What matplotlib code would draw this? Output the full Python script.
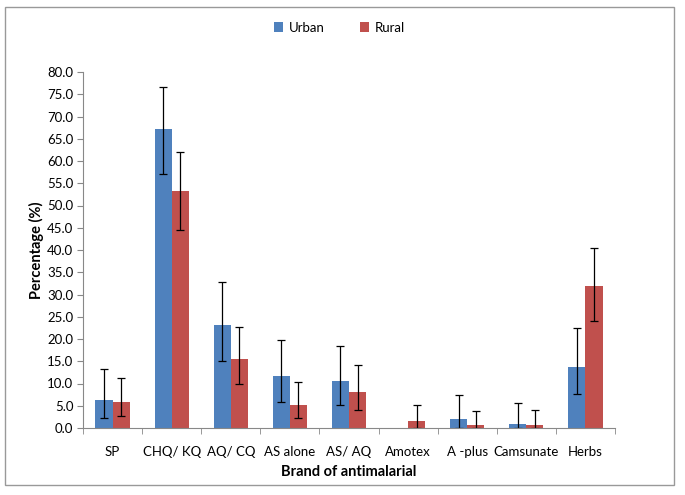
import numpy as np
import matplotlib.pyplot as plt
from matplotlib.patches import Rectangle

plt.rcParams['font.family'] = ['Lato', 'DejaVu Sans']

brands = ['SP', 'CHQ/ KQ', 'AQ/ CQ', 'AS alone', 'AS/ AQ', 'Amotex', 'A -plus', 'Camsunate', 'Herbs']
urban = [6.3, 67.3, 23.1, 11.6, 10.5, 0.0, 2.1, 1.0, 13.7]
urban_lo = [2.3, 57.0, 15.1, 5.9, 5.1, 0.0, 0.1, 0.1, 7.6]
urban_hi = [13.2, 76.7, 32.9, 19.8, 18.5, 0.0, 7.4, 5.7, 22.4]
rural = [5.9, 53.3, 15.5, 5.2, 8.1, 1.5, 0.7, 0.7, 31.9]
rural_lo = [2.6, 44.5, 9.8, 2.2, 4.1, 0.1, 0.1, 0.1, 24.1]
rural_hi = [11.3, 62.0, 22.7, 10.4, 14.1, 5.2, 3.9, 4.1, 40.4]

u = np.array(urban)
r = np.array(rural)
u_err = [u - np.array(urban_lo), np.array(urban_hi) - u]
r_err = [r - np.array(rural_lo), np.array(rural_hi) - r]

fig = plt.figure(figsize=(6.85, 4.95), dpi=100)
ax = fig.add_axes([83/685, 1 - 428/495, (615-83)/685, (428-72)/495])

x = np.arange(len(brands))
w = 0.29
has_u = u > 0
ax.bar(x - w/2, u, w, color='#4F81BD', label='Urban')
ax.errorbar((x - w/2)[has_u], u[has_u], yerr=[e[has_u] for e in u_err],
            fmt='none', ecolor='black', elinewidth=0.9, capsize=3, capthick=0.9)
ax.bar(x + w/2, r, w, color='#C0504D', label='Rural')
ax.errorbar(x + w/2, r, yerr=r_err, fmt='none', ecolor='black',
            elinewidth=0.9, capsize=3, capthick=0.9)

ax.set_xlim(-0.5, len(brands) - 0.5)
ax.set_ylim(0, 80)
ax.set_yticks(np.arange(0, 80.1, 5))
ax.set_yticklabels([f'{v:.1f}' for v in np.arange(0, 80.1, 5)], fontsize=9.5)
ax.set_xticks(x)
ax.set_xticklabels(brands, fontsize=9.5)
ax.set_xticks(np.arange(-0.5, len(brands), 1), minor=True)
ax.tick_params(axis='x', which='major', length=0, pad=13)
ax.tick_params(axis='x', which='minor', length=4, color='#888888', direction='out')
ax.tick_params(axis='y', length=4, color='#888888', direction='out', pad=3)

for s in ['top', 'right']:
    ax.spines[s].set_visible(False)
for s in ['left', 'bottom']:
    ax.spines[s].set_color('#888888')

ax.set_ylabel('Percentage (%)', fontsize=10.5, fontweight='bold', labelpad=2)
ax.set_xlabel('Brand of antimalarial', fontsize=10.5, fontweight='bold', labelpad=5)

ax.legend(loc='upper center', bbox_to_anchor=(0.482, 1.175), ncol=2, frameon=False,
          fontsize=9.5, handlelength=0.7, handleheight=0.7, columnspacing=2.7,
          handletextpad=0.4)

fig.patches.append(Rectangle((5/685, 1 - 485/495), (674-5)/685, (485-7)/495,
                             transform=fig.transFigure, fill=False,
                             edgecolor='#999999', linewidth=1))

fig.savefig('out.png', dpi=100)
